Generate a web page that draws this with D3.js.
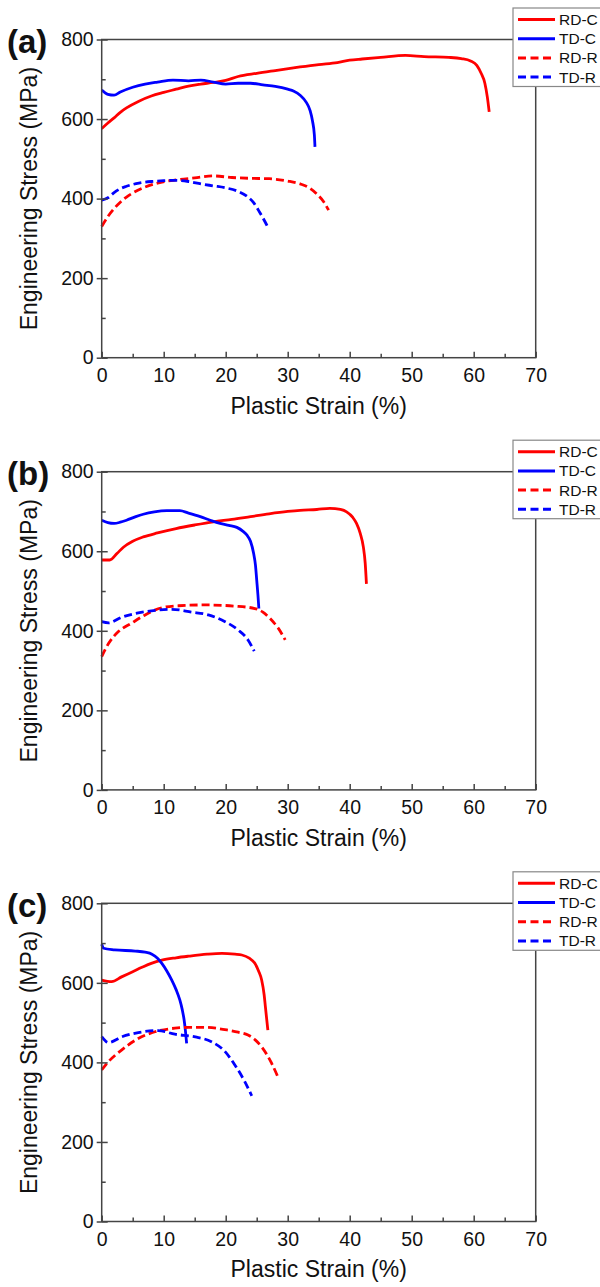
<!DOCTYPE html>
<html>
<head>
<meta charset="utf-8">
<script src="https://cdn.jsdelivr.net/npm/d3@7"></script>
<style>
  body { margin: 0; background: #fff; }
  text { font-family: "Liberation Sans", Arial, sans-serif; fill: #111; }
</style>
</head>
<body>
<div id="chart"></div>
<script>
// tick labels and legend entries
const panelLabels = ["(a)", "(b)", "(c)"];
const seriesNames = ["RD-C", "TD-C", "RD-R", "TD-R"];
const xTicks = [0, 10, 20, 30, 40, 50, 60, 70];
const yTicks = [0, 200, 400, 600, 800];

// panel (a): [plastic strain %, engineering stress MPa]
const aRDC = [[0,576],[1,590],[2,603],[3,617],[4,628],[6,645],[8,658],[10,667],[12,675],[14,683],[16,688],[18,692],[20,697],[22,707],[25,715],[28,722],[32,731],[35,737],[38,742],[40,748],[42,751],[45,755],[49,760],[52,757],[56,755],[58,752],[59.5,746],[60.5,735],[61.2,715],[61.8,690],[62.2,655],[62.5,618]];
const aTDC = [[0,673],[1,662],[2,660],[3,668],[5,680],[7,688],[9,693],[11.5,698],[14,696],[16,698],[18,693],[20,688],[22,690],[24,690],[26,686],[28,682],[30,675],[31,670],[32,660],[33,642],[33.6,622],[34,595],[34.3,560],[34.4,530]];
const aRDR = [[0,330],[1,355],[2,375],[3,391],[4,404],[5,414],[7,429],[9,439],[12,447],[15,452],[18,457],[21,453],[24,451],[27,450],[30,444],[32,437],[33.5,427],[34.8,410],[35.8,392],[36.6,371]];
const aTDR = [[0,396],[1,402],[2,415],[3,425],[4,431],[6,439],[8,443],[10,445],[12,446],[14,443],[16,437],[18,432],[20,427],[22,418],[23.5,405],[24.5,390],[25.5,365],[26.3,343],[26.9,325]];

// panel (b)
const bRDC = [[0,578],[1.3,578],[2.5,595],[3.5,610],[5,625],[6.7,636],[9,646],[12,657],[15,666],[18,674],[21,680],[24,687],[27,694],[30,700],[32,703],[34.7,705],[36.8,708],[38.5,705],[39.5,699],[40.5,685],[41.1,670],[41.7,645],[42.2,611],[42.5,570],[42.7,518]];
const bTDC = [[0,678],[1,672],[2,670],[3,673],[4,678],[5.5,687],[6.7,693],[8.5,699],[10.5,702],[12.6,702],[14,696],[15.9,687],[17.5,678],[19.1,670],[20.5,665],[21.8,660],[22.8,650],[23.4,641],[24,625],[24.5,595],[24.8,565],[25,528],[25.2,490],[25.35,456]];
const bRDR = [[0,335],[1.1,368],[2.7,398],[4.8,419],[7,440],[9.7,458],[12.4,463],[16.7,465],[21.5,462],[24.7,456],[26,447],[26.9,435],[27.8,420],[28.5,406],[29.6,377]];
const bTDR = [[0,423],[1.1,420],[3.2,434],[5.9,445],[8,450],[11.3,454],[14.5,447],[17.2,440],[19.9,423],[22,402],[23.6,377],[24.6,349]];

// panel (c)
const cRDC = [[0,607],[1.6,603],[3.2,615],[5,628],[6.5,639],[8,649],[9.7,657],[12,663],[14,667],[17,672],[19.4,674],[21.5,672],[22.6,670],[23.8,662],[24.7,649],[25.3,630],[25.8,607],[26.2,570],[26.4,540],[26.8,481]];
const cTDC = [[0,697],[0.3,687],[2.1,683],[5.4,680],[7,677],[8.1,672],[9,662],[9.7,649],[10.5,630],[11.3,607],[12,583],[12.6,557],[13,532],[13.3,506],[13.5,480],[13.7,448]];
const cRDR = [[0,381],[1.1,402],[3.2,431],[5.9,460],[8.6,477],[11.8,486],[14,488],[16.7,488],[20.4,481],[22,476],[23.6,469],[24.8,456],[25.8,439],[26.7,418],[27.4,398],[28.4,364]];
const cTDR = [[0,465],[1.1,450],[3.2,464],[5.9,475],[9.1,480],[11.8,471],[15.1,464],[17.7,452],[19.9,427],[21.5,393],[23.1,351],[24.2,316]];

const panelData = [
    [aRDC, aTDC, aRDR, aTDR],
    [bRDC, bTDC, bRDR, bTDR],
    [cRDC, cTDC, cRDR, cTDR]
];

// styles of the four series
const colors = ["#ff0000", "#0000ff", "#ff0000", "#0000ff"];
const dashed = [false, false, true, true];

const W = 600, H = 1287;
const left = 101.7, plotW = 434, plotH = 318.2;
const tops = [39.5, 471.7, 903.3];

const svg = d3.select("#chart").append("svg")
    .attr("width", W)
    .attr("height", H);

const x = d3.scaleLinear().domain([0, 70]).range([0, plotW]);
const y = d3.scaleLinear().domain([0, 800]).range([plotH, 0]);

const line = d3.line()
    .x(d => x(d[0]))
    .y(d => y(d[1]))
    .curve(d3.curveMonotoneX);

panelData.forEach((series, p) => {
    const g = svg.append("g")
        .attr("transform", `translate(${left},${tops[p]})`);

    // curves
    series.forEach((data, i) => {
        g.append("path")
            .datum(data)
            .attr("fill", "none")
            .attr("stroke", colors[i])
            .attr("stroke-width", 2.8)
            .attr("stroke-dasharray", dashed[i] ? "8,4" : null)
            .attr("d", line);
    });

    // frame
    g.append("rect")
        .attr("width", plotW)
        .attr("height", plotH)
        .attr("fill", "none")
        .attr("stroke", "#444")
        .attr("stroke-width", 1.5);

    // x axis, ticks pointing in
    const xAxis = g.append("g")
        .attr("transform", `translate(0,${plotH})`)
        .call(d3.axisBottom(x).tickValues(xTicks).tickSizeInner(-6).tickSizeOuter(0).tickPadding(10.5));
    xAxis.select(".domain").remove();
    xAxis.selectAll("line").attr("stroke", "#444").attr("stroke-width", 1.5);
    xAxis.selectAll("text").style("font-size", "19.5px").attr("fill", "#111");

    g.append("g")
        .attr("transform", `translate(0,${plotH})`)
        .call(d3.axisBottom(x).tickValues(d3.range(5, 70, 10)).tickSize(-4).tickFormat(""))
        .call(a => a.select(".domain").remove())
        .selectAll("line").attr("stroke", "#444").attr("stroke-width", 1.5);

    // y axis, major ticks cross the axis
    const yAxis = g.append("g")
        .call(d3.axisLeft(y).tickValues(yTicks).tickSizeInner(5).tickSizeOuter(0).tickPadding(3));
    yAxis.select(".domain").remove();
    yAxis.selectAll("line").attr("stroke", "#444").attr("stroke-width", 1.5);
    yAxis.selectAll("text").style("font-size", "19.5px").attr("fill", "#111");

    g.append("g")
        .call(d3.axisLeft(y).tickValues(yTicks).tickSize(-6).tickFormat(""))
        .call(a => a.select(".domain").remove())
        .selectAll("line").attr("stroke", "#444").attr("stroke-width", 1.5);

    g.append("g")
        .call(d3.axisLeft(y).tickValues(d3.range(100, 800, 200)).tickSize(-4).tickFormat(""))
        .call(a => a.select(".domain").remove())
        .selectAll("line").attr("stroke", "#444").attr("stroke-width", 1.5);

    // axis titles
    g.append("text")
        .attr("x", plotW / 2)
        .attr("y", plotH + 56)
        .attr("text-anchor", "middle")
        .style("font-size", "23px")
        .text("Plastic Strain (%)");

    g.append("text")
        .attr("transform", `translate(${36.5 - left},${plotH / 2}) rotate(-90)`)
        .attr("text-anchor", "middle")
        .style("font-size", "23px")
        .text("Engineering Stress (MPa)");

    // panel letter
    g.append("text")
        .attr("x", 7 - left)
        .attr("y", 13.5)
        .style("font-size", "33px")
        .style("font-weight", "bold")
        .text(panelLabels[p]);

    // legend
    const lg = g.append("g")
        .attr("transform", `translate(${513 - left},-31.5)`);
    lg.append("rect")
        .attr("width", 95)
        .attr("height", 78.5)
        .attr("fill", "#fff")
        .attr("stroke", "#888")
        .attr("stroke-width", 1.2);
    seriesNames.forEach((name, i) => {
        const ry = 11.5 + i * 19.2;
        lg.append("line")
            .attr("x1", 5).attr("x2", 42)
            .attr("y1", ry).attr("y2", ry)
            .attr("stroke", colors[i])
            .attr("stroke-width", 3)
            .attr("stroke-dasharray", dashed[i] ? "8,4.5" : null);
        lg.append("text")
            .attr("x", 46)
            .attr("y", ry + 5.5)
            .style("font-size", "15.5px")
            .text(name);
    });
});
</script>
</body>
</html>
